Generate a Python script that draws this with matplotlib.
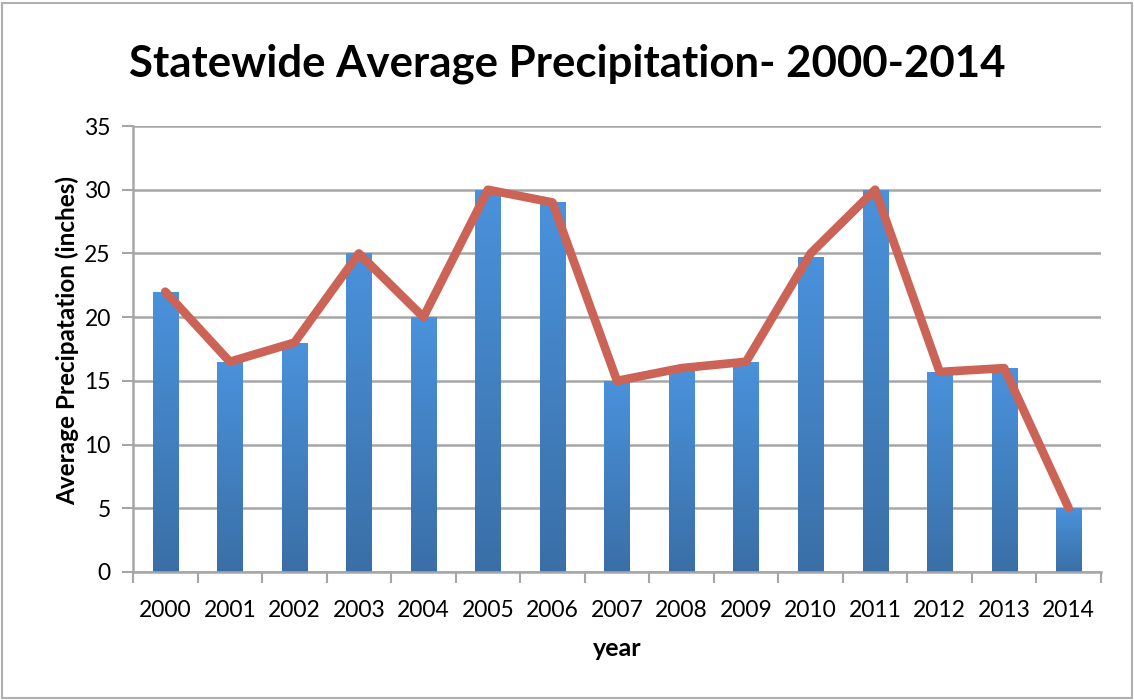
import numpy as np
import matplotlib
matplotlib.use("Agg")
import matplotlib.pyplot as plt
from matplotlib.colors import LinearSegmentedColormap
from matplotlib.patches import Rectangle

years = ["2000", "2001", "2002", "2003", "2004", "2005", "2006", "2007",
         "2008", "2009", "2010", "2011", "2012", "2013", "2014"]
bar_values = [22, 16.5, 18, 25, 20, 30, 29, 15, 15.8, 16.5, 24.7, 30, 15.7, 16, 5]
line_values = [22, 16.5, 18, 25, 20, 30, 29, 15, 16, 16.5, 25, 30, 15.7, 16, 5]
y_ticks = [0, 5, 10, 15, 20, 25, 30, 35]

plt.rcParams['font.family'] = ['Lato', 'DejaVu Sans']

fig = plt.figure(figsize=(11.34, 7.0), dpi=100)
ax = fig.add_axes([133 / 1134, 1 - 572 / 700, (1101 - 133) / 1134, (572 - 126) / 700])

x = np.arange(len(years))
grid_col = "#a6a6a6"

ax.set_xlim(-0.5, len(years) - 0.5)
ax.set_ylim(0, 35)
ax.set_yticks(y_ticks)
ax.yaxis.grid(True, color=grid_col, linewidth=1.8, zorder=0)
ax.set_axisbelow(True)

# bars with a vertical blue gradient
grad = LinearSegmentedColormap.from_list("blue", ["#3a6fa6", "#4a92dc"])
bars = ax.bar(x, bar_values, width=0.39, color="none", edgecolor="none", zorder=2)
gimg = np.linspace(0, 1, 256).reshape(-1, 1)
for b in bars:
    x0, w, h = b.get_x(), b.get_width(), b.get_height()
    im = ax.imshow(gimg, cmap=grad, origin="lower", aspect="auto",
                   extent=[x0, x0 + w, 0, h], zorder=2, interpolation="bilinear")
    im.set_clip_path(b)
ax.set_xlim(-0.5, len(years) - 0.5)
ax.set_ylim(0, 35)

ax.plot(x, line_values, color="#cb6356", linewidth=6.2,
        solid_joinstyle="round", solid_capstyle="round", zorder=3)

for s in ["top", "right"]:
    ax.spines[s].set_visible(False)
for s in ["left", "bottom"]:
    ax.spines[s].set_color(grid_col)
    ax.spines[s].set_linewidth(1.8)

ax.set_xticks(x)
ax.set_xticklabels(years, fontsize=16.5)
ax.set_xticks(np.arange(-0.5, len(years), 1.0), minor=True)
ax.tick_params(axis="x", which="major", length=0, pad=20)
ax.tick_params(axis="x", which="minor", length=8, width=1.5, color=grid_col, direction="out")
ax.tick_params(axis="y", length=8, width=1.5, color=grid_col, labelsize=16.5, pad=8)

ax.set_xlabel("year", fontsize=18, fontweight="bold", labelpad=12)
ax.set_ylabel("Average Precipatation (inches)", fontsize=17.5, fontweight="bold")
ax.yaxis.set_label_coords(-0.056, 0.52)

fig.text(567 / 1134, 1 - 64 / 700, "Statewide Average Precipitation- 2000-2014",
         ha="center", va="center", fontsize=31.5, fontweight="bold")

# light frame around the chart
fig.patches.append(Rectangle((0.002, 0.003), 0.996, 0.993, transform=fig.transFigure,
                             fill=False, edgecolor="#b0b0b0", linewidth=1.5))

fig.savefig("out.png", dpi=100)
